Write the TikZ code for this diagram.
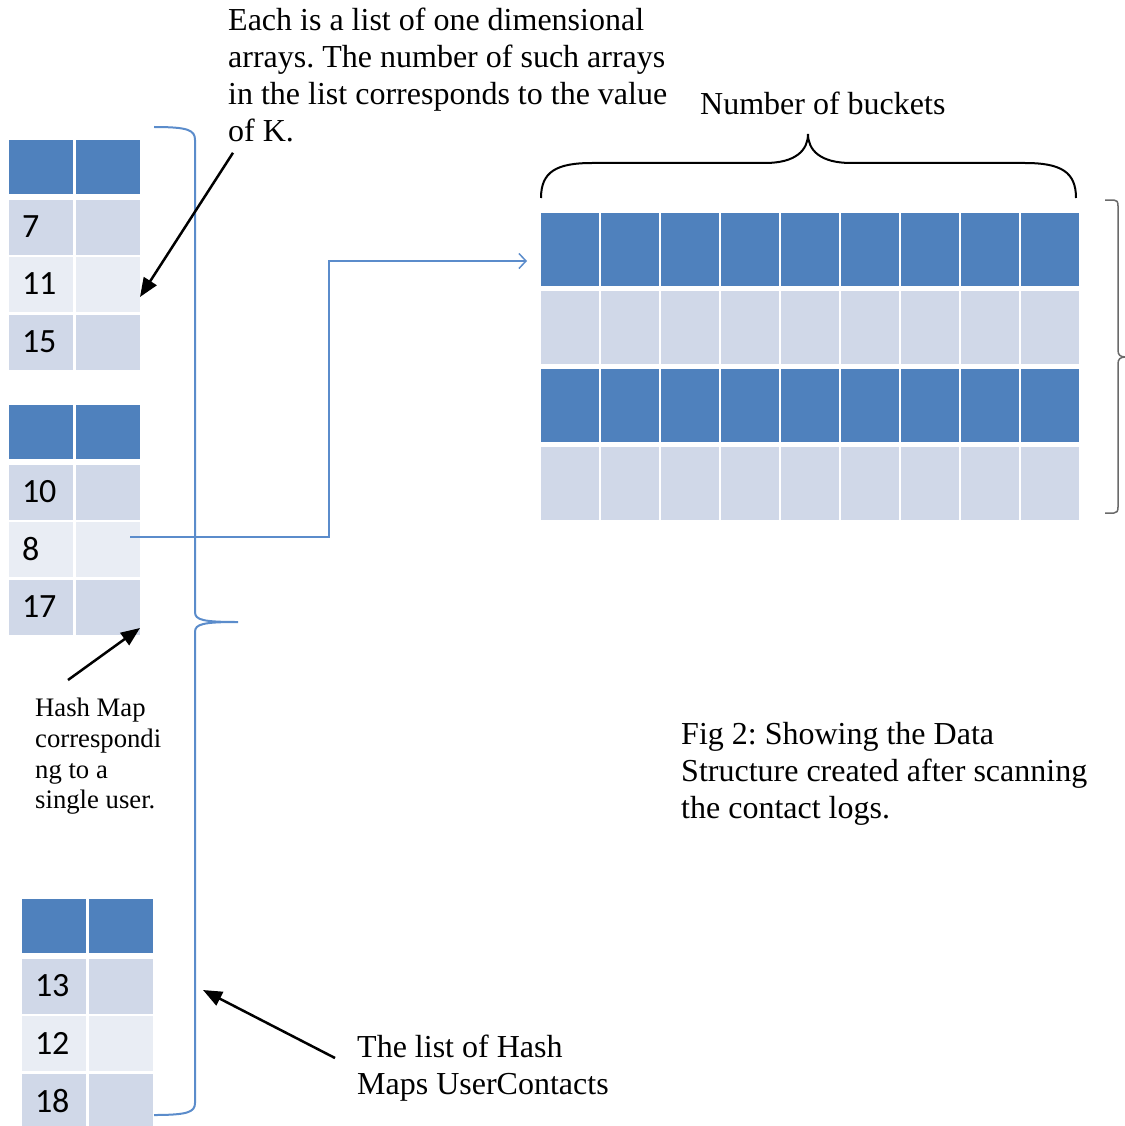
\documentclass[tikz,border=0pt]{standalone}
\usepackage{fontspec}
\setmainfont{Liberation Serif}
\newfontfamily\cellfont{Carlito}
\usepackage{xcolor}
\usepackage{tikz}
\usetikzlibrary{arrows.meta}
\frenchspacing

\definecolor{hdblue}{HTML}{4F81BD}
\definecolor{rowdark}{HTML}{D0D8E8}
\definecolor{rowlight}{HTML}{E9EDF4}
\definecolor{linkblue}{HTML}{5B8CCB}
\definecolor{bracegray}{HTML}{6A6A6A}

\begin{document}
\begin{tikzpicture}[x=1pt, y=-1pt,
    hcell/.style={rectangle, fill=hdblue, inner sep=0pt, minimum width=64pt, minimum height=54pt},
    dcell/.style={rectangle, fill=rowdark, inner sep=0pt, inner xsep=13pt, text width=38pt, align=left,
                  minimum height=55pt, font=\cellfont\fontsize{34}{34}\selectfont},
    lcell/.style={dcell, fill=rowlight},
    bkblue/.style={rectangle, fill=hdblue, inner sep=0pt, minimum width=58pt, minimum height=73pt},
    bkgray/.style={bkblue, fill=rowdark},
    note/.style={inner sep=0pt, align=left, font=\fontsize{32}{36.8}\selectfont},
    smallnote/.style={note, font=\fontsize{26.7}{30.7}\selectfont},
    pointer/.style={draw=black, line width=2.5pt, -{Triangle[length=19pt,width=15pt]}},
    link/.style={draw=linkblue, line width=1.5pt, -{Straight Barb[length=7pt,width=15pt,line width=1.5pt]}}]
  \useasboundingbox (0,0) rectangle (1124,1126);

  % first hash map
  \node[hcell] (ha1) at (41,167) {};
  \node[hcell] (ha2) at (108,167) {};
  \node[dcell] (a7) at (41,227) {7};
  \node[dcell] (a7v) at (108,227) {};
  \node[lcell] (a11) at (41,284) {11};
  \node[lcell] (a11v) at (108,284) {};
  \node[dcell] (a15) at (41,342) {15};
  \node[dcell] (a15v) at (108,342) {};

  % second hash map
  \node[hcell] (hb1) at (41,432) {};
  \node[hcell] (hb2) at (108,432) {};
  \node[dcell] (b10) at (41,492) {10};
  \node[dcell] (b10v) at (108,492) {};
  \node[lcell] (b8) at (41,549) {8};
  \node[lcell] (b8v) at (108,549) {};
  \node[dcell] (b17) at (41,607) {17};
  \node[dcell] (b17v) at (108,607) {};

  % last hash map
  \node[hcell] (hc1) at (54,926) {};
  \node[hcell] (hc2) at (120.5,926) {};
  \node[dcell] (c13) at (54,986) {13};
  \node[dcell] (c13v) at (120.5,986) {};
  \node[lcell] (c12) at (54,1043) {12};
  \node[lcell] (c12v) at (120.5,1043) {};
  \node[dcell] (c18) at (54,1101) {18};
  \node[dcell] (c18v) at (120.5,1101) {};

  % buckets
  \foreach \c in {1,...,9} {
    \node[bkblue] (k1-\c) at (510+60*\c,249.5) {};
    \node[bkgray] (k2-\c) at (510+60*\c,327.5) {};
    \node[bkblue] (k3-\c) at (510+60*\c,405.5) {};
    \node[bkgray] (k4-\c) at (510+60*\c,483.5) {};
  }

  % texts
  \node[note, anchor=north west] (kinfo) at (228,8)
    {Each is a list of one dimensional\\arrays. The number of such arrays\\in the list corresponds to the value\\of K.};
  \node[note, anchor=base west] (nbuckets) at (700,115) {Number of buckets};
  \node[smallnote, anchor=north west] (onemap) at (35,698)
    {Hash Map\\correspondi\\ng to a\\single user.};
  \node[note, anchor=north west] (figcap) at (681,722)
    {Fig 2: Showing the Data\\Structure created after scanning\\the contact logs.};
  \node[note, anchor=north west] (maplist) at (357,1035) {The list of Hash\\Maps UserContacts};

  % braces
  \draw[linkblue, line width=2pt] (154,127) .. controls (188,127) and (195,130) .. (195,140)
    -- (195,612) .. controls (195,620) and (203,622) .. (238,622)
    .. controls (203,622) and (195,624) .. (195,632)
    -- (195,1103) .. controls (195,1112) and (188,1115) .. (154,1115);
  \draw[black, line width=2pt] (541,198) .. controls (541,172) and (556,163) .. (592,163)
    -- (765,163) .. controls (796,163) and (808,150) .. (808,134)
    .. controls (808,150) and (820,163) .. (851,163)
    -- (1025,163) .. controls (1061,163) and (1076,172) .. (1076,198);
  \draw[bracegray, line width=1.5pt] (1105,200) -- (1114,200) .. controls (1117,200) and (1118,202) .. (1118,206)
    -- (1118,350) .. controls (1118,355) and (1120,357) .. (1126,357)
    .. controls (1120,357) and (1118,359) .. (1118,364)
    -- (1118,507) .. controls (1118,511) and (1117,513) .. (1114,513) -- (1105,513);

  % connectors
  \coordinate (hm8) at (130,537);
  \coordinate (bkin) at (527,261);
  \draw[link] (hm8) -- ++(199,0) |- (bkin);

  \coordinate (tipk) at (140,297);
  \coordinate (tipm) at (140,628);
  \coordinate (tipl) at (203,990);
  \draw[pointer] ([shift={(5pt,-11pt)}]kinfo.south west) -- (tipk);
  \draw[pointer] ([shift={(33pt,18pt)}]onemap.north west) -- (tipm);
  \draw[pointer] ([shift={(-22pt,-23pt)}]maplist.north west) -- (tipl);
\end{tikzpicture}
\end{document}
